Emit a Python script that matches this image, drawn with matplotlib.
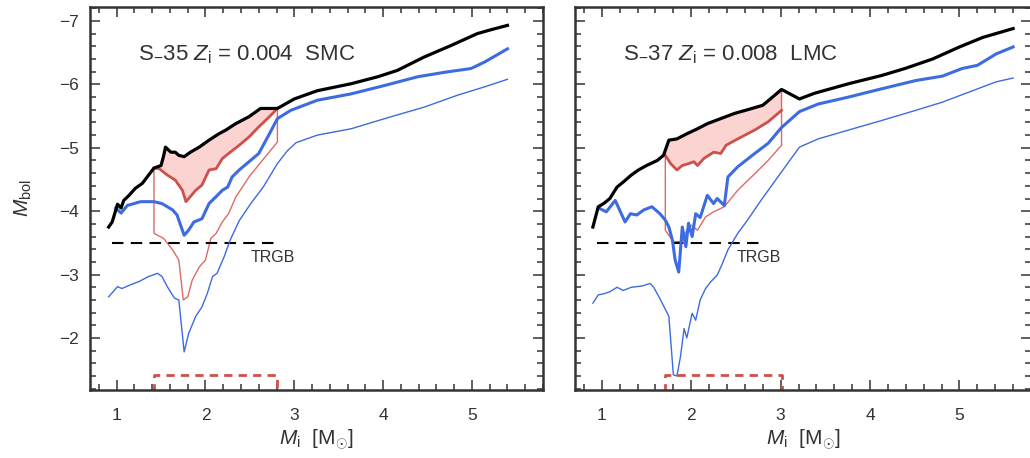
import matplotlib
matplotlib.use("Agg")
import matplotlib.pyplot as plt
from matplotlib.ticker import MultipleLocator

plt.rcParams["font.family"] = ["Liberation Sans", "DejaVu Sans"]
plt.rcParams["mathtext.fontset"] = "custom"
plt.rcParams["mathtext.rm"] = "Liberation Sans"
plt.rcParams["mathtext.it"] = "Liberation Sans:italic"
plt.rcParams["mathtext.bf"] = "Liberation Sans:bold"

# ---------------------------------------------------------------------------
# Data
# ---------------------------------------------------------------------------

# SMC, S_35, Z_i = 0.004
smc_black_x = [0.91, 0.95, 1.01, 1.05, 1.08, 1.14, 1.21, 1.29, 1.36, 1.42, 1.50, 1.53, 1.55,
               1.61, 1.66, 1.70, 1.76, 1.83, 1.93, 2.04, 2.15, 2.23, 2.34, 2.49, 2.62, 2.81,
               3.00, 3.26, 3.64, 3.94, 4.16, 4.46, 4.76, 5.06, 5.21, 5.40]
smc_black_y = [-3.75, -3.83, -4.11, -4.05, -4.17, -4.25, -4.36, -4.44, -4.57, -4.68, -4.72, -4.88, -5.01,
               -4.93, -4.93, -4.88, -4.86, -4.93, -5.01, -5.12, -5.22, -5.28, -5.38, -5.49, -5.62, -5.62,
               -5.77, -5.90, -6.01, -6.12, -6.22, -6.43, -6.61, -6.80, -6.86, -6.93]

smc_blue_x = [0.99, 1.05, 1.12, 1.27, 1.42, 1.51, 1.63, 1.68, 1.76, 1.81, 1.87, 1.96, 2.04,
              2.12, 2.19, 2.25, 2.30, 2.38, 2.49, 2.60, 2.72, 2.81, 2.96, 3.26, 3.64, 4.01,
              4.39, 4.69, 4.99, 5.14, 5.40]
smc_blue_y = [-4.05, -3.97, -4.09, -4.15, -4.15, -4.12, -4.02, -3.94, -3.62, -3.70, -3.83, -3.88, -4.12,
              -4.23, -4.33, -4.38, -4.54, -4.65, -4.78, -4.91, -5.22, -5.46, -5.59, -5.75, -5.85, -5.98,
              -6.12, -6.19, -6.25, -6.35, -6.56]

smc_blue_thin_x = [0.91, 1.01, 1.06, 1.14, 1.25, 1.36, 1.46, 1.51, 1.57, 1.65, 1.70, 1.76, 1.81,
                   1.89, 1.96, 2.02, 2.08, 2.13, 2.21, 2.28, 2.38, 2.51, 2.65, 2.81, 2.92, 3.02,
                   3.26, 3.64, 4.09, 4.46, 4.84, 5.14, 5.40]
smc_blue_thin_y = [-2.65, -2.81, -2.78, -2.83, -2.89, -2.97, -3.02, -2.97, -2.81, -2.63, -2.60, -1.78, -2.07,
                   -2.34, -2.49, -2.70, -2.97, -3.02, -3.28, -3.55, -3.85, -4.12, -4.38, -4.75, -4.95, -5.08,
                   -5.20, -5.30, -5.49, -5.64, -5.83, -5.96, -6.08]

smc_red_x = [1.42, 1.48, 1.57, 1.66, 1.74, 1.78, 1.83, 1.89, 1.96, 2.04, 2.12, 2.19, 2.26,
             2.38, 2.49, 2.60, 2.72, 2.81]
smc_red_y = [-4.68, -4.67, -4.57, -4.49, -4.33, -4.15, -4.23, -4.33, -4.41, -4.65, -4.67, -4.83, -4.91,
             -5.04, -5.17, -5.33, -5.49, -5.62]

smc_red_thin_x = [1.42, 1.42, 1.53, 1.63, 1.70, 1.75, 1.80, 1.85, 1.93, 2.00, 2.06, 2.12, 2.19,
                  2.26, 2.34, 2.49, 2.64, 2.81, 2.81]
smc_red_thin_y = [-4.68, -3.65, -3.57, -3.39, -3.23, -2.60, -2.65, -2.91, -3.12, -3.23, -3.57, -3.65, -3.83,
                  -3.96, -4.22, -4.54, -4.80, -5.09, -5.62]

# LMC, S_37, Z_i = 0.008
lmc_black_x = [0.90, 0.96, 1.02, 1.09, 1.17, 1.24, 1.33, 1.41, 1.50, 1.62, 1.69, 1.75, 1.84,
               1.95, 2.07, 2.18, 2.33, 2.48, 2.63, 2.80, 2.91, 3.01, 3.21, 3.38, 3.76, 4.13,
               4.39, 4.70, 5.00, 5.26, 5.60]
lmc_black_y = [-3.75, -4.07, -4.12, -4.20, -4.38, -4.46, -4.57, -4.65, -4.72, -4.80, -4.88, -5.12, -5.14,
               -5.22, -5.30, -5.38, -5.46, -5.54, -5.60, -5.67, -5.80, -5.92, -5.77, -5.86, -6.01, -6.14,
               -6.25, -6.40, -6.59, -6.74, -6.88]

lmc_blue_x = [0.98, 1.05, 1.15, 1.26, 1.32, 1.39, 1.47, 1.56, 1.65, 1.71, 1.75, 1.79, 1.82,
              1.86, 1.90, 1.94, 1.97, 2.01, 2.05, 2.10, 2.18, 2.25, 2.29, 2.37, 2.41, 2.52,
              2.71, 2.86, 3.01, 3.21, 3.42, 3.76, 4.13, 4.51, 4.81, 5.03, 5.20, 5.41, 5.60]
lmc_blue_y = [-4.04, -3.99, -4.17, -3.83, -3.96, -3.94, -4.02, -4.07, -3.96, -3.86, -3.75, -3.54, -3.23,
              -3.04, -3.75, -3.44, -3.81, -3.60, -3.96, -3.90, -4.25, -4.12, -4.20, -4.09, -4.54, -4.70,
              -4.91, -5.07, -5.32, -5.57, -5.69, -5.80, -5.93, -6.06, -6.13, -6.25, -6.30, -6.48, -6.59]

lmc_blue_thin_x = [0.90, 0.96, 1.03, 1.09, 1.17, 1.24, 1.33, 1.45, 1.54, 1.58, 1.65, 1.75, 1.80,
                   1.84, 1.88, 1.92, 1.95, 2.01, 2.05, 2.10, 2.16, 2.22, 2.29, 2.35, 2.41, 2.52,
                   2.63, 2.78, 3.01, 3.21, 3.42, 3.76, 4.13, 4.51, 4.81, 5.11, 5.41, 5.60]
lmc_blue_thin_y = [-2.55, -2.68, -2.70, -2.73, -2.80, -2.75, -2.80, -2.82, -2.86, -2.80, -2.62, -2.34, -1.42,
                   -1.40, -1.71, -2.15, -2.00, -2.39, -2.28, -2.60, -2.78, -2.89, -2.99, -3.18, -3.39, -3.65,
                   -3.86, -4.17, -4.62, -5.01, -5.14, -5.28, -5.43, -5.59, -5.72, -5.88, -6.04, -6.10]

lmc_red_x = [1.71, 1.77, 1.84, 1.90, 1.97, 2.03, 2.07, 2.14, 2.25, 2.33, 2.39, 2.52, 2.71, 2.86, 3.01]
lmc_red_y = [-4.88, -4.75, -4.65, -4.72, -4.75, -4.78, -4.72, -4.83, -4.93, -4.91, -5.04, -5.14,
             -5.28, -5.41, -5.59]

lmc_red_thin_x = [1.71, 1.71, 1.80, 1.90, 1.95, 2.00, 2.07, 2.16, 2.25, 2.37, 2.52, 2.71, 2.86, 3.01, 3.01]
lmc_red_thin_y = [-4.88, -3.70, -3.52, -3.52, -3.70, -3.78, -3.70, -3.91, -3.99, -4.07, -4.33, -4.59,
                  -4.80, -5.04, -5.92]

panels = [
    dict(label=r"S$_{-}$35 $Z_{\rm i}$ = 0.004  SMC",
         black=(smc_black_x, smc_black_y), blue=(smc_blue_x, smc_blue_y),
         blue_thin=(smc_blue_thin_x, smc_blue_thin_y), red=(smc_red_x, smc_red_y),
         red_thin=(smc_red_thin_x, smc_red_thin_y), m_range=(1.42, 2.81)),
    dict(label=r"S$_{-}$37 $Z_{\rm i}$ = 0.008  LMC",
         black=(lmc_black_x, lmc_black_y), blue=(lmc_blue_x, lmc_blue_y),
         blue_thin=(lmc_blue_thin_x, lmc_blue_thin_y), red=(lmc_red_x, lmc_red_y),
         red_thin=(lmc_red_thin_x, lmc_red_thin_y), m_range=(1.71, 3.01)),
]

TRGB = -3.5
TRGB_X = (0.95, 2.8)
BOX_TOP = -1.41

BLUE = "#3d6be0"
RED = "#cf4f4a"
RED_THIN = "#dd6a66"
FILL = "#fbd3d1"
GREY = "#333333"

fig = plt.figure(figsize=(10.3, 4.58), dpi=100)
axes = [fig.add_axes([90 / 1030, 68 / 458, 453 / 1030, 383 / 458]),
        fig.add_axes([575 / 1030, 68 / 458, 456 / 1030, 383 / 458])]

for i, (ax, p) in enumerate(zip(axes, panels)):
    lo, hi = p["m_range"]
    bx, by = p["black"]
    rx, ry = p["red"]

    # shaded region between the black and red thick curves
    top = [(x, y) for x, y in zip(bx, by) if lo <= x <= hi]
    poly_x = [x for x, _ in top] + rx[::-1]
    poly_y = [y for _, y in top] + ry[::-1]
    ax.fill(poly_x, poly_y, color=FILL, lw=0, zorder=1)

    ax.plot(*p["red_thin"], color=RED_THIN, lw=1.0, zorder=2)
    ax.plot(*p["blue_thin"], color=BLUE, lw=1.0, zorder=3)
    ax.plot(rx, ry, color=RED, lw=2.0, zorder=3)
    ax.plot(*p["blue"], color=BLUE, lw=2.2, zorder=4)
    ax.plot(bx, by, color="black", lw=2.3, zorder=5)

    ax.plot(TRGB_X, [TRGB, TRGB], color="black", lw=1.5, ls=(0, (5.5, 3.5)), zorder=2)
    ax.text(2.51, -3.27, "TRGB", fontsize=11.5, color=GREY, ha="left", va="center")

    # mass range bracket at the bottom
    ax.plot([lo, lo, hi, hi], [-1.15, BOX_TOP, BOX_TOP, -1.15], color=RED, lw=2.0,
            ls=(0, (3.0, 2.2)), zorder=2)

    ax.text(1.24, -6.47, p["label"], fontsize=16, color=GREY, ha="left", va="center")

    ax.set_xlim(0.7, 5.8)
    ax.set_ylim(-1.18, -7.22)
    ax.xaxis.set_major_locator(MultipleLocator(1))
    ax.xaxis.set_minor_locator(MultipleLocator(0.2))
    ax.yaxis.set_major_locator(MultipleLocator(1))
    ax.yaxis.set_minor_locator(MultipleLocator(0.2))
    ax.tick_params(which="both", direction="in", top=True, right=True, colors=GREY,
                   labelsize=12.5, width=1.1)
    ax.tick_params(which="major", length=7)
    ax.tick_params(axis="x", which="major", pad=13)
    ax.tick_params(axis="y", which="major", pad=8)
    ax.tick_params(which="minor", length=4)
    for s in ax.spines.values():
        s.set_linewidth(1.8)
        s.set_color(GREY)

    ax.set_xlabel(r"$M_{\rm i}$  [M$_{\odot}$]", fontsize=15, color=GREY, labelpad=3)
    if i == 0:
        ax.set_ylabel(r"$M_{\rm bol}$", fontsize=15, color=GREY, labelpad=18)
    else:
        ax.tick_params(labelleft=False)

fig.savefig("out.png", dpi=100)
